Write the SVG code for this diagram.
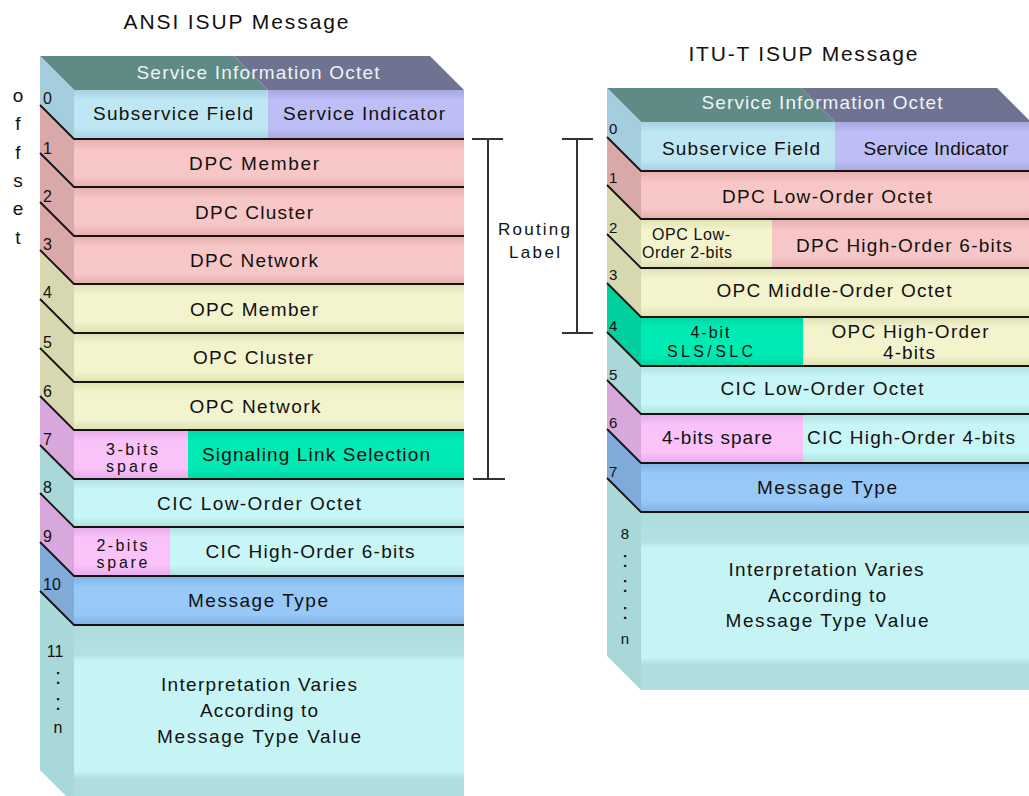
<svg xmlns="http://www.w3.org/2000/svg" width="1029" height="796" viewBox="0 0 1029 796">
<defs>
<linearGradient id="gBlue0" x1="0" y1="0" x2="0" y2="1"><stop offset="0" stop-color="#a6d2e2"/><stop offset="0.22" stop-color="#bfe7f3"/><stop offset="0.78" stop-color="#bfe7f3"/><stop offset="1" stop-color="#a6d2e2"/></linearGradient>
<linearGradient id="gLav" x1="0" y1="0" x2="0" y2="1"><stop offset="0" stop-color="#a8a8e2"/><stop offset="0.22" stop-color="#bebef6"/><stop offset="0.78" stop-color="#bebef6"/><stop offset="1" stop-color="#a8a8e2"/></linearGradient>
<linearGradient id="gPink" x1="0" y1="0" x2="0" y2="1"><stop offset="0" stop-color="#e6adad"/><stop offset="0.22" stop-color="#f7c6c6"/><stop offset="0.78" stop-color="#f7c6c6"/><stop offset="1" stop-color="#e6adad"/></linearGradient>
<linearGradient id="gYel" x1="0" y1="0" x2="0" y2="1"><stop offset="0" stop-color="#e0e0b2"/><stop offset="0.22" stop-color="#f3f3cd"/><stop offset="0.78" stop-color="#f3f3cd"/><stop offset="1" stop-color="#e0e0b2"/></linearGradient>
<linearGradient id="gMag" x1="0" y1="0" x2="0" y2="1"><stop offset="0" stop-color="#e6aae8"/><stop offset="0.22" stop-color="#f9c2f9"/><stop offset="0.78" stop-color="#f9c2f9"/><stop offset="1" stop-color="#e6aae8"/></linearGradient>
<linearGradient id="gGrn" x1="0" y1="0" x2="0" y2="1"><stop offset="0" stop-color="#00d6a2"/><stop offset="0.22" stop-color="#00eab4"/><stop offset="0.78" stop-color="#00eab4"/><stop offset="1" stop-color="#00d6a2"/></linearGradient>
<linearGradient id="gCyan" x1="0" y1="0" x2="0" y2="1"><stop offset="0" stop-color="#b0e0e0"/><stop offset="0.22" stop-color="#c8f5f5"/><stop offset="0.78" stop-color="#c8f5f5"/><stop offset="1" stop-color="#b0e0e0"/></linearGradient>
<linearGradient id="gCyanTall" x1="0" y1="0" x2="0" y2="1"><stop offset="0" stop-color="#aedcdc"/><stop offset="0.17" stop-color="#b4e2e2"/><stop offset="0.2" stop-color="#c6f4f4"/><stop offset="0.82" stop-color="#c6f4f4"/><stop offset="0.86" stop-color="#b0dede"/><stop offset="1" stop-color="#b0dede"/></linearGradient>
<linearGradient id="gMsg" x1="0" y1="0" x2="0" y2="1"><stop offset="0" stop-color="#80b0e2"/><stop offset="0.22" stop-color="#98c8f8"/><stop offset="0.78" stop-color="#98c8f8"/><stop offset="1" stop-color="#80b0e2"/></linearGradient>
</defs>
<style>
text{font-family:"Liberation Sans",Arial,sans-serif;fill:#111;}
.t{font-size:19px;text-anchor:middle;}
.s{font-size:16px;text-anchor:middle;}
.title{font-size:21px;text-anchor:middle;}
.num{font-size:16px;}
.numr{font-size:15px;}
.top{font-size:19px;text-anchor:middle;fill:#eef4f4;}
.dots{font-size:22px;text-anchor:middle;}
.sep{stroke:#141414;stroke-width:1.8;fill:none;}
.br{stroke:#333;stroke-width:2;fill:none;}
.sBlue{fill:#a4cede}.sPink{fill:#d9a8a8}.sYel{fill:#d8d8b0}.sMag{fill:#d8a8dc}.sGrn{fill:#00cfa0}.sCyan{fill:#a8d8d8}.sMsg{fill:#80aad8}
.fBlue{fill:url(#gBlue0)}.fLav{fill:url(#gLav)}.fPink{fill:url(#gPink)}.fYel{fill:url(#gYel)}.fMag{fill:url(#gMag)}.fGrn{fill:url(#gGrn)}.fCyan{fill:url(#gCyan)}.fMsg{fill:url(#gMsg)}
.tTeal{fill:#5f8a86}.tSlate{fill:#6f7391}
</style>
<rect width="1029" height="796" fill="#ffffff"/>

<!-- ================= ANSI ================= -->
<text class="title" x="236" y="29" textLength="225" lengthAdjust="spacing">ANSI ISUP Message</text>
<g id="offset-label">
<text class="t" x="18" y="102">o</text>
<text class="t" x="18" y="130">f</text>
<text class="t" x="18" y="159">f</text>
<text class="t" x="18" y="187">s</text>
<text class="t" x="18" y="215">e</text>
<text class="t" x="18" y="244">t</text>
</g>

<g id="ansi-sio">
<polygon class="tTeal" points="40,56 234,56 268,90 74,90"/>
<polygon class="tSlate" points="234,56 430,56 464,90 268,90"/>
<text class="top" x="258" y="79" textLength="243" lengthAdjust="spacing">Service Information Octet</text>
</g>

<g id="ansi-row0">
<polygon class="sBlue" points="40,56 74,90 74,139 40,105"/>
<rect class="fBlue" x="74" y="90" width="194" height="49"/>
<rect class="fLav" x="268" y="90" width="196" height="49"/>
<text class="num" x="43" y="104">0</text>
<text class="t" x="173" y="120" textLength="160" lengthAdjust="spacing">Subservice Field</text>
<text class="t" x="364" y="120" textLength="162" lengthAdjust="spacing">Service Indicator</text>
</g>
<g id="ansi-row1">
<polygon class="sPink" points="40,105 74,139 74,187 40,153"/>
<rect class="fPink" x="74" y="139" width="390" height="48"/>
<text class="num" x="43" y="154">1</text>
<text class="t" x="254" y="170" textLength="130" lengthAdjust="spacing">DPC Member</text>
</g>
<g id="ansi-row2">
<polygon class="sPink" points="40,153 74,187 74,236 40,202"/>
<rect class="fPink" x="74" y="187" width="390" height="49"/>
<text class="num" x="43" y="202">2</text>
<text class="t" x="254" y="219" textLength="118" lengthAdjust="spacing">DPC Cluster</text>
</g>
<g id="ansi-row3">
<polygon class="sPink" points="40,202 74,236 74,284 40,250"/>
<rect class="fPink" x="74" y="236" width="390" height="48"/>
<text class="num" x="43" y="250">3</text>
<text class="t" x="254" y="267" textLength="128" lengthAdjust="spacing">DPC Network</text>
</g>
<g id="ansi-row4">
<polygon class="sYel" points="40,250 74,284 74,333 40,299"/>
<rect class="fYel" x="74" y="284" width="390" height="49"/>
<text class="num" x="43" y="298">4</text>
<text class="t" x="254" y="316" textLength="128" lengthAdjust="spacing">OPC Member</text>
</g>
<g id="ansi-row5">
<polygon class="sYel" points="40,299 74,333 74,382 40,348"/>
<rect class="fYel" x="74" y="333" width="390" height="49"/>
<text class="num" x="43" y="348">5</text>
<text class="t" x="253" y="364" textLength="120" lengthAdjust="spacing">OPC Cluster</text>
</g>
<g id="ansi-row6">
<polygon class="sYel" points="40,348 74,382 74,430 40,396"/>
<rect class="fYel" x="74" y="382" width="390" height="48"/>
<text class="num" x="43" y="397">6</text>
<text class="t" x="255" y="413" textLength="131" lengthAdjust="spacing">OPC Network</text>
</g>
<g id="ansi-row7">
<polygon class="sMag" points="40,396 74,430 74,479 40,445"/>
<rect class="fMag" x="74" y="430" width="114" height="49"/>
<rect class="fGrn" x="188" y="430" width="276" height="49"/>
<text class="num" x="43" y="445">7</text>
<text class="s" x="132" y="455" textLength="52" lengthAdjust="spacing">3-bits</text>
<text class="s" x="132" y="472" textLength="52" lengthAdjust="spacing">spare</text>
<text class="t" x="316" y="461" textLength="228" lengthAdjust="spacing">Signaling Link Selection</text>
</g>
<g id="ansi-row8">
<polygon class="sCyan" points="40,445 74,479 74,527 40,493"/>
<rect class="fCyan" x="74" y="479" width="390" height="48"/>
<text class="num" x="43" y="493">8</text>
<text class="t" x="259" y="510" textLength="204" lengthAdjust="spacing">CIC Low-Order Octet</text>
</g>
<g id="ansi-row9">
<polygon class="sMag" points="40,493 74,527 74,576 40,542"/>
<rect class="fMag" x="74" y="527" width="96" height="49"/>
<rect class="fCyan" x="170" y="527" width="294" height="49"/>
<text class="num" x="43" y="542">9</text>
<text class="s" x="122" y="551" textLength="51" lengthAdjust="spacing">2-bits</text>
<text class="s" x="122" y="568" textLength="51" lengthAdjust="spacing">spare</text>
<text class="t" x="310" y="558" textLength="209" lengthAdjust="spacing">CIC High-Order 6-bits</text>
</g>
<g id="ansi-row10">
<polygon class="sMsg" points="40,542 74,576 74,625 40,591"/>
<rect class="fMsg" x="74" y="576" width="390" height="49"/>
<text class="num" x="43" y="590">10</text>
<text class="t" x="258" y="607" textLength="140" lengthAdjust="spacing">Message Type</text>
</g>
<g id="ansi-row11">
<polygon class="sCyan" points="40,591 74,625 74,804 40,770"/>
<rect x="74" y="625" width="390" height="179" fill="url(#gCyanTall)"/>
<text class="num" x="55" y="657" text-anchor="middle">11</text>
<text class="dots" x="58" y="684">:</text>
<text class="dots" x="58" y="710">:</text>
<text class="num" x="58" y="733" text-anchor="middle">n</text>
<text class="t" x="259" y="691" textLength="196" lengthAdjust="spacing">Interpretation Varies</text>
<text class="t" x="259" y="717" textLength="118" lengthAdjust="spacing">According to</text>
<text class="t" x="259" y="743" textLength="204" lengthAdjust="spacing">Message Type Value</text>
</g>

<!-- ================= ITU-T ================= -->
<text class="title" x="803" y="61" textLength="229" lengthAdjust="spacing">ITU-T ISUP Message</text>

<g id="itu-sio">
<polygon class="tTeal" points="607,88 801,88 835,122 641,122"/>
<polygon class="tSlate" points="801,88 997,88 1031,122 835,122"/>
<text class="top" x="822" y="109" textLength="241" lengthAdjust="spacing">Service Information Octet</text>
</g>
<g id="itu-row0">
<polygon class="sBlue" points="607,88 641,122 641,171 607,137"/>
<rect class="fBlue" x="641" y="122" width="194" height="49"/>
<rect class="fLav" x="835" y="122" width="196" height="49"/>
<text class="numr" x="609" y="134">0</text>
<text class="t" x="741" y="155" textLength="158" lengthAdjust="spacing">Subservice Field</text>
<text class="t" x="936" y="155" textLength="145" lengthAdjust="spacing">Service Indicator</text>
</g>
<g id="itu-row1">
<polygon class="sPink" points="607,137 641,171 641,219 607,185"/>
<rect class="fPink" x="641" y="171" width="390" height="48"/>
<text class="numr" x="609" y="183">1</text>
<text class="t" x="827" y="203" textLength="210" lengthAdjust="spacing">DPC Low-Order Octet</text>
</g>
<g id="itu-row2">
<polygon class="sYel" points="607,185 641,219 641,268 607,234"/>
<rect class="fYel" x="641" y="219" width="131" height="49"/>
<rect class="fPink" x="772" y="219" width="259" height="49"/>
<text class="numr" x="609" y="233">2</text>
<text class="s" x="691" y="240" textLength="78" lengthAdjust="spacing">OPC Low-</text>
<text class="s" x="687" y="258" textLength="90" lengthAdjust="spacing">Order 2-bits</text>
<text class="t" x="904" y="252" textLength="216" lengthAdjust="spacing">DPC High-Order 6-bits</text>
</g>
<g id="itu-row3">
<polygon class="sYel" points="607,234 641,268 641,317 607,283"/>
<rect class="fYel" x="641" y="268" width="390" height="49"/>
<text class="numr" x="609" y="280">3</text>
<text class="t" x="834" y="297" textLength="235" lengthAdjust="spacing">OPC Middle-Order Octet</text>
</g>
<g id="itu-row4">
<polygon class="sGrn" points="607,283 641,317 641,366 607,332"/>
<rect class="fGrn" x="641" y="317" width="162" height="49"/>
<rect class="fYel" x="803" y="317" width="228" height="49"/>
<text class="numr" x="609" y="331">4</text>
<text class="s" x="710" y="338" textLength="39" lengthAdjust="spacing">4-bit</text>
<text class="s" x="710" y="357" textLength="86" lengthAdjust="spacing">SLS/SLC</text>
<text class="t" x="910" y="338" textLength="157" lengthAdjust="spacing">OPC High-Order</text>
<text class="t" x="909" y="359" textLength="52" lengthAdjust="spacing">4-bits</text>
</g>
<g id="itu-row5">
<polygon class="sCyan" points="607,332 641,366 641,414 607,380"/>
<rect class="fCyan" x="641" y="366" width="390" height="48"/>
<text class="numr" x="609" y="380">5</text>
<text class="t" x="822" y="395" textLength="203" lengthAdjust="spacing">CIC Low-Order Octet</text>
</g>
<g id="itu-row6">
<polygon class="sMag" points="607,380 641,414 641,463 607,429"/>
<rect class="fMag" x="641" y="414" width="162" height="49"/>
<rect class="fCyan" x="803" y="414" width="228" height="49"/>
<text class="numr" x="609" y="428">6</text>
<text class="t" x="717" y="444" textLength="110" lengthAdjust="spacing">4-bits spare</text>
<text class="t" x="911" y="444" textLength="208" lengthAdjust="spacing">CIC High-Order 4-bits</text>
</g>
<g id="itu-row7">
<polygon class="sMsg" points="607,429 641,463 641,512 607,478"/>
<rect class="fMsg" x="641" y="463" width="390" height="49"/>
<text class="numr" x="609" y="477">7</text>
<text class="t" x="827" y="494" textLength="140" lengthAdjust="spacing">Message Type</text>
</g>
<g id="itu-row8">
<polygon class="sCyan" points="607,478 641,512 641,690 607,656"/>
<rect x="641" y="512" width="390" height="178" fill="url(#gCyanTall)"/>
<text class="numr" x="625" y="539" text-anchor="middle">8</text>
<text class="dots" x="625" y="567">:</text>
<text class="dots" x="625" y="592">:</text>
<text class="dots" x="625" y="619">:</text>
<text class="numr" x="625" y="644" text-anchor="middle">n</text>
<text class="t" x="826" y="576" textLength="195" lengthAdjust="spacing">Interpretation Varies</text>
<text class="t" x="827" y="602" textLength="118" lengthAdjust="spacing">According to</text>
<text class="t" x="827" y="627" textLength="203" lengthAdjust="spacing">Message Type Value</text>
</g>

<!-- separators (row boundaries) -->
<g id="separators" class="sep">
<path d="M40,105 L74,139 L464,139 M40,153 L74,187 L464,187 M40,202 L74,236 L464,236 M40,250 L74,284 L464,284 M40,299 L74,333 L464,333 M40,348 L74,382 L464,382 M40,396 L74,430 L464,430 M40,445 L74,479 L464,479 M40,493 L74,527 L464,527 M40,542 L74,576 L464,576 M40,591 L74,625 L464,625"/>
<path d="M607,137 L641,171 L1031,171 M607,185 L641,219 L1031,219 M607,234 L641,268 L1031,268 M607,283 L641,317 L1031,317 M607,332 L641,366 L1031,366 M607,380 L641,414 L1031,414 M607,429 L641,463 L1031,463 M607,478 L641,512 L1031,512"/>
</g>

<!-- connectors: routing label brackets -->
<g id="connectors" class="br">
<path d="M472,139 L503,139 M488,139 L488,479 M473,479 L505,479"/>
<path d="M562,139 L593,139 M577,139 L577,333 M562,333 L593,333"/>
</g>
<g id="routing-label">
<text x="534" y="235" font-size="17" text-anchor="middle" textLength="72" lengthAdjust="spacing">Routing</text>
<text x="534.5" y="258" font-size="17" text-anchor="middle" textLength="51" lengthAdjust="spacing">Label</text>
</g>
</svg>
